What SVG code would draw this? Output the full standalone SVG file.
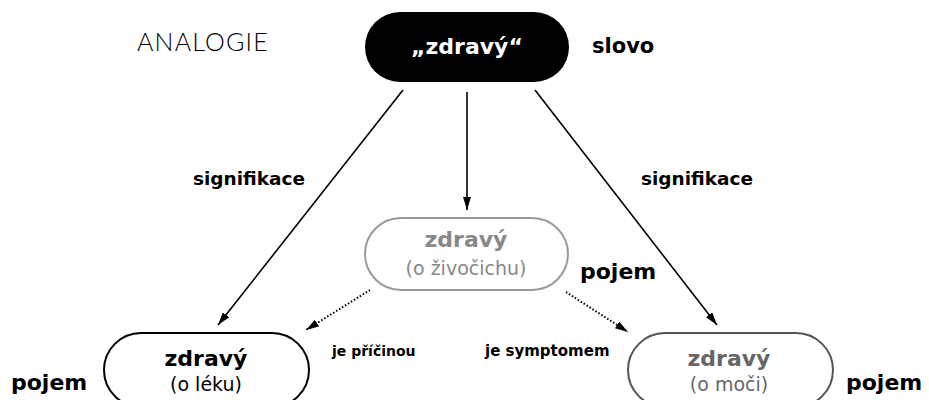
<svg xmlns="http://www.w3.org/2000/svg" width="929" height="400" viewBox="0 0 929 400">
<defs>
<style>
.b{font-family:"DejaVu Sans","Liberation Sans",sans-serif;font-weight:bold}
.r{font-family:"DejaVu Sans","Liberation Sans",sans-serif;font-weight:normal}
.ln{stroke:#000;stroke-width:1.6;fill:none}
.dt{stroke:#000;stroke-width:2;fill:none;stroke-dasharray:1.5 2}
</style>
<marker id="ah2" viewBox="0 0 13 8" refX="13" refY="4" markerWidth="13" markerHeight="8" markerUnits="userSpaceOnUse" orient="auto"><path d="M0,0 L13,4 L0,8 z" fill="#000"/></marker>
</defs>
<rect width="929" height="400" fill="#fff"/>
<text x="137" y="51" font-size="25" font-family="Lato,'Liberation Sans',sans-serif" font-weight="300" letter-spacing="1.2" fill="#000">ANALOGIE</text>
<g id="slovo">
<rect x="365" y="12" width="204" height="70" rx="35" fill="#000"/>
<text class="b" x="467" y="54" font-size="22" fill="#fff" text-anchor="middle">„zdravý“</text>
</g>
<text class="b" x="592" y="53" font-size="21">slovo</text>
<g id="zivocich">
<rect x="365" y="218" width="203" height="72" rx="36" fill="#fff" stroke="#999" stroke-width="2"/>
<text class="b" x="466" y="247" font-size="22" fill="#888" text-anchor="middle">zdravý</text>
<text class="r" x="466" y="275" font-size="19" fill="#888" text-anchor="middle">(o živočichu)</text>
</g>
<text class="b" x="580" y="279" font-size="22">pojem</text>
<g id="lek">
<rect x="104" y="333" width="205" height="74" rx="37" fill="#fff" stroke="#000" stroke-width="2"/>
<text class="b" x="206" y="366" font-size="22" fill="#000" text-anchor="middle">zdravý</text>
<text class="r" x="206" y="391" font-size="19" fill="#000" text-anchor="middle">(o léku)</text>
</g>
<text class="b" x="11" y="390" font-size="22">pojem</text>
<g id="moc">
<rect x="628" y="333" width="205" height="74" rx="37" fill="#fff" stroke="#555" stroke-width="2"/>
<text class="b" x="729" y="366" font-size="22" fill="#666" text-anchor="middle">zdravý</text>
<text class="r" x="729" y="391" font-size="19" fill="#666" text-anchor="middle">(o moči)</text>
</g>
<text class="b" x="846" y="390" font-size="22">pojem</text>
<g id="connectors">
<line class="ln" x1="467" y1="92" x2="467" y2="210" marker-end="url(#ah2)"/>
<line class="ln" x1="403" y1="90" x2="218" y2="325" marker-end="url(#ah2)"/>
<line class="ln" x1="535" y1="90" x2="717" y2="325" marker-end="url(#ah2)"/>
<line class="dt" x1="370" y1="290" x2="306" y2="330" marker-end="url(#ah2)"/>
<line class="dt" x1="566" y1="292" x2="628" y2="332" marker-end="url(#ah2)"/>
<text class="b" x="193" y="185" font-size="18.5">signifikace</text>
<text class="b" x="641" y="185" font-size="18.5">signifikace</text>
<text class="b" x="332" y="356" font-size="14">je příčinou</text>
<text class="b" x="485" y="356" font-size="15">je symptomem</text>
</g>
</svg>
